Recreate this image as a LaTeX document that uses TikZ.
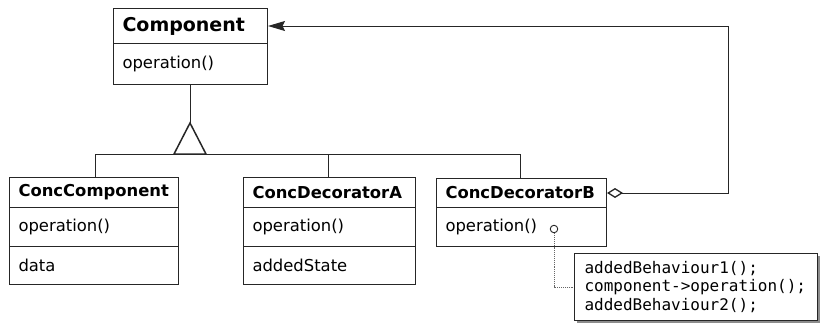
\documentclass[tikz,border=0pt]{standalone}
\usepackage{fontspec}
\setmainfont{DejaVu Sans}
\setmonofont{DejaVu Sans Mono}
\usetikzlibrary{arrows.meta,shadows}
\begin{document}
\begin{tikzpicture}[x=1pt,y=-1pt,
  line width=1pt,
  compart/.style={draw=black!85, anchor=north west, inner xsep=9pt, inner ysep=0pt,
    align=left, font=\fontsize{16.4}{19}\selectfont},
  titlebig/.style={font=\fontsize{19}{22}\selectfont\bfseries},
  titlesmall/.style={font=\fontsize{16.4}{19}\selectfont\bfseries},
  link/.style={draw=black!85},
  notebox/.style={draw=black!85, fill=white, anchor=north west, inner xsep=10pt, inner ysep=0pt,
    align=left, font=\fontsize{16}{18.3}\ttfamily,
    drop shadow={shadow xshift=2pt, shadow yshift=-2pt, fill=black!45, opacity=1}},
  noteline/.style={draw=black!60, line width=0.9pt, densely dotted},
]
\useasboundingbox (0,0) rectangle (826,324);

% abstract component
\node[compart, titlebig, minimum width=154, minimum height=35, text width=136] (comp) at (113,8) {Component};
\node[compart, minimum width=154, minimum height=41, text width=136] (compop) at (113,43) {operation()};

% concrete component
\node[compart, titlesmall, minimum width=169, minimum height=30, text width=151] (cc) at (9,177) {ConcComponent};
\node[compart, minimum width=169, minimum height=39, text width=151] (ccop) at (9,207) {operation()};
\node[compart, minimum width=169, minimum height=38, text width=151] (ccdata) at (9,246) {data};

% decorator A
\node[compart, titlesmall, minimum width=172, minimum height=30, text width=154] (cda) at (243,177) {ConcDecoratorA};
\node[compart, minimum width=172, minimum height=39, text width=154] (cdaop) at (243,207) {operation()};
\node[compart, minimum width=172, minimum height=38, text width=154] (cdastate) at (243,246) {addedState};

% decorator B
\node[compart, titlesmall, minimum width=170, minimum height=29, text width=152] (cdb) at (436,178) {ConcDecoratorB};
\node[compart, minimum width=170, minimum height=39, text width=152] (cdbop) at (436,207) {operation()};

% note attached to operation() of decorator B
\node[notebox, minimum width=243, minimum height=67, text width=223] (note) at (574,253)
  {addedBehaviour1();\\component->operation();\\addedBehaviour2();};
\node[draw=black!85, circle, fill=white, line width=0.9pt, inner sep=0pt, minimum size=7.5pt] (pin) at (554,229) {};

% generalization
\coordinate (apex) at (190,123);
\draw[link] (compop.south -| apex) -- (apex);
\draw[link] (95,154) -- (520,154);
\draw[link, line width=1.5pt, fill=white, line join=miter] (apex) -- (174,154) -- (206,154) -- cycle;
\draw[link] (95,154) -- (cc.north -| 95,0);
\draw[link] (328,154) -- (cda.north -| 328,0);
\draw[link] (520,154) -- (cdb.north -| 520,0);

% aggregation back to the component
\draw[link, {Diamond[open,length=16pt,width=10pt,fill=white,line width=1.3pt]}-{Stealth[length=17pt,width=10pt,inset=2.5pt]}]
  (cdb.east) -- ++(121,0) |- (comp.east);

% note connector
\draw[noteline] (pin.south) |- (note.west);
\end{tikzpicture}
\end{document}
